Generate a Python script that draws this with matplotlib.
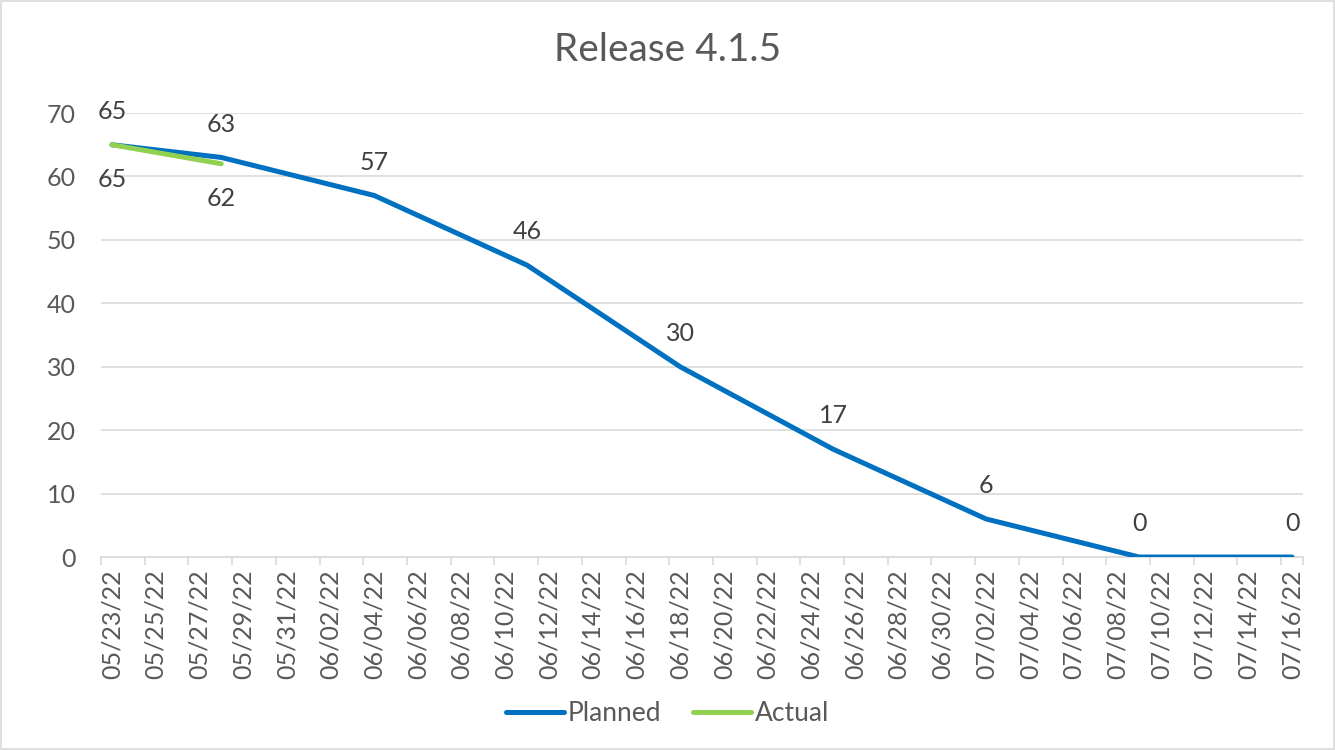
import matplotlib.pyplot as plt
import matplotlib.dates as mdates
import pandas as pd

#---------- DATA ---------------------------------------------------------------
planned_dates = ['2022-05-23', '2022-05-28', '2022-06-04', '2022-06-11', '2022-06-18',
                 '2022-06-25', '2022-07-02', '2022-07-09', '2022-07-16']
planned = [65, 63, 57, 46, 30, 17, 6, 0, 0]

actual_dates = ['2022-05-23', '2022-05-28']
actual = [65, 62]

title = 'Release 4.1.5'
#------------------------------------------------------------------------------

plt.rcParams['font.family'] = ['Lato', 'DejaVu Sans']

pd_planned = pd.to_datetime(planned_dates)
pd_actual = pd.to_datetime(actual_dates)
half = pd.Timedelta(hours=12)

fig = plt.figure(figsize=(13.35, 7.5), dpi=100)
ax = fig.add_axes([0.0757, 0.2573, 0.9003, 0.592])

ax.plot(pd_planned, planned, color='#0070C0', linewidth=3.6, label='Planned',
        solid_capstyle='round', zorder=3)
ax.plot(pd_actual, actual, color='#92D050', linewidth=3.6, label='Actual',
        solid_capstyle='round', zorder=4)

for d, v in zip(pd_planned, planned):
    ax.annotate(str(v), (d, v), xytext=(0, 24), textcoords='offset points',
                ha='center', va='center', fontsize=18, color='#404040')
for d, v in zip(pd_actual, actual):
    ax.annotate(str(v), (d, v), xytext=(0, -25), textcoords='offset points',
                ha='center', va='center', fontsize=18, color='#404040')

# Excel-style date axis: tick marks sit between days, labels on the day
ax.set_xlim(pd_planned[0] - half, pd_planned[-1] + half)
ax.set_ylim(0, 70)
ax.set_yticks(range(0, 71, 10))
label_days = pd.date_range(pd_planned[0], pd_planned[-1], freq='2D')
ax.set_xticks(label_days)
ax.set_xticks(list(label_days - half) + [pd_planned[-1] + half], minor=True)
ax.xaxis.set_major_formatter(mdates.DateFormatter('%m/%d/%y'))
plt.setp(ax.get_xticklabels(), rotation=90)

ax.grid(axis='y', color='#D9D9D9', linewidth=1.2)
ax.set_axisbelow(True)
for s in ['top', 'right', 'left']:
    ax.spines[s].set_visible(False)
ax.spines['bottom'].set_color('#D9D9D9')
ax.spines['bottom'].set_linewidth(1.2)
ax.tick_params(axis='y', length=0, labelsize=18, labelcolor='#595959', pad=18)
ax.tick_params(axis='x', which='major', length=0, labelsize=18,
               labelcolor='#595959', pad=9)
ax.tick_params(axis='x', which='minor', length=6, color='#D9D9D9', width=1.2)

fig.text(0.5, 0.933, title, ha='center', va='center', fontsize=28, color='#595959')

fig.legend(loc='center', bbox_to_anchor=(0.5, 0.049), ncol=2, frameon=False,
           fontsize=19, labelcolor='#595959', handlelength=2.2, handletextpad=0.15,
           columnspacing=1.2)

fig.patches.append(plt.Rectangle((0.001, 0.001), 0.998, 0.998, transform=fig.transFigure,
                                 fill=False, edgecolor='#D9D9D9', linewidth=1.2))

fig.savefig('out.png', dpi=100)
